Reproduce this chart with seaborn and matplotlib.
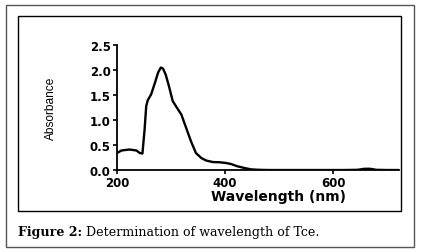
import matplotlib
matplotlib.use("Agg")
import matplotlib.pyplot as plt
from matplotlib.patches import Rectangle
import pandas as pd
import seaborn as sns

# values
wavelength = [200, 208, 215, 223, 230, 236, 242, 247, 251, 254, 257, 263, 270,
              276, 281, 285, 290, 296, 303, 310, 319, 328, 337, 346, 356, 365,
              377, 390, 402, 411, 423, 436, 448, 463, 480, 550, 620, 645, 658,
              668, 680, 700, 722]
absorbance = [0.34, 0.39, 0.40, 0.41, 0.40, 0.39, 0.34, 0.33, 0.81, 1.28, 1.40,
              1.51, 1.74, 1.95, 2.05, 2.03, 1.91, 1.68, 1.38, 1.26, 1.11, 0.84,
              0.57, 0.34, 0.24, 0.19, 0.16, 0.155, 0.14, 0.12, 0.074, 0.04,
              0.013, 0.004, 0.0, 0.0, 0.0, 0.004, 0.025, 0.025, 0.004, 0.0, 0.0]
x_ticks = [200, 400, 600]
y_ticks = [0.0, 0.5, 1.0, 1.5, 2.0, 2.5]

df = pd.DataFrame({"Wavelength (nm)": wavelength, "Absorbance": absorbance})

sns.set_style("ticks")
plt.rcParams['font.family'] = ['DejaVu Sans']
plt.rcParams['text.color'] = 'black'
plt.rcParams['xtick.labelcolor'] = 'black'
plt.rcParams['ytick.labelcolor'] = 'black'

fig = plt.figure(figsize=(4.21, 2.53), dpi=100)
ax = fig.add_axes([0.278, 0.324, 0.670, 0.494])

sns.lineplot(data=df, x="Wavelength (nm)", y="Absorbance", ax=ax,
             color="black", linewidth=1.7)

ax.set_xlim(200, 722)
ax.set_ylim(0, 2.5)
ax.set_xticks(x_ticks)
ax.set_yticks(y_ticks)
ax.set_yticklabels([f"{v:.1f}" for v in y_ticks])
sns.despine(ax=ax)
for s in ["left", "bottom"]:
    ax.spines[s].set_linewidth(1.3)
    ax.spines[s].set_color("black")
ax.tick_params(axis="both", length=3, width=1.2, color="black",
               labelcolor="black", pad=1.5)
for lab in ax.get_xticklabels() + ax.get_yticklabels():
    lab.set_fontweight("bold")
    lab.set_fontsize(8.5)
ax.set_xlabel("")
ax.set_ylabel("")

fig.text(0.6615, 0.222, "Wavelength (nm)", ha="center", va="center",
         fontsize=10, fontweight="bold", color="black")
fig.text(0.120, 0.573, "Absorbance", ha="center", va="center", rotation=90,
         fontsize=8.6, family=["Liberation Sans"], color="black")

# boxes around the figure
fig.patches.append(Rectangle((0.014, 0.020), 0.969, 0.957, transform=fig.transFigure,
                             fill=False, edgecolor="#555555", linewidth=1.0))
fig.patches.append(Rectangle((0.043, 0.162), 0.910, 0.771, transform=fig.transFigure,
                             fill=False, edgecolor="black", linewidth=1.0))

# caption: bold lead-in, then the rest placed right after it
lead = fig.text(0.043, 0.083, "Figure 2:", ha="left", va="center", fontsize=9.1,
                fontweight="bold", family=["DejaVu Serif"], color="black")
fig.canvas.draw()
bb = lead.get_window_extent(renderer=fig.canvas.get_renderer())
x_rest = (bb.x1 + 4) / fig.bbox.width
fig.text(x_rest, 0.083, "Determination of wavelength of Tce.", ha="left",
         va="center", fontsize=9.1, family=["DejaVu Serif"], color="black")

fig.savefig("out.png", dpi=100)
